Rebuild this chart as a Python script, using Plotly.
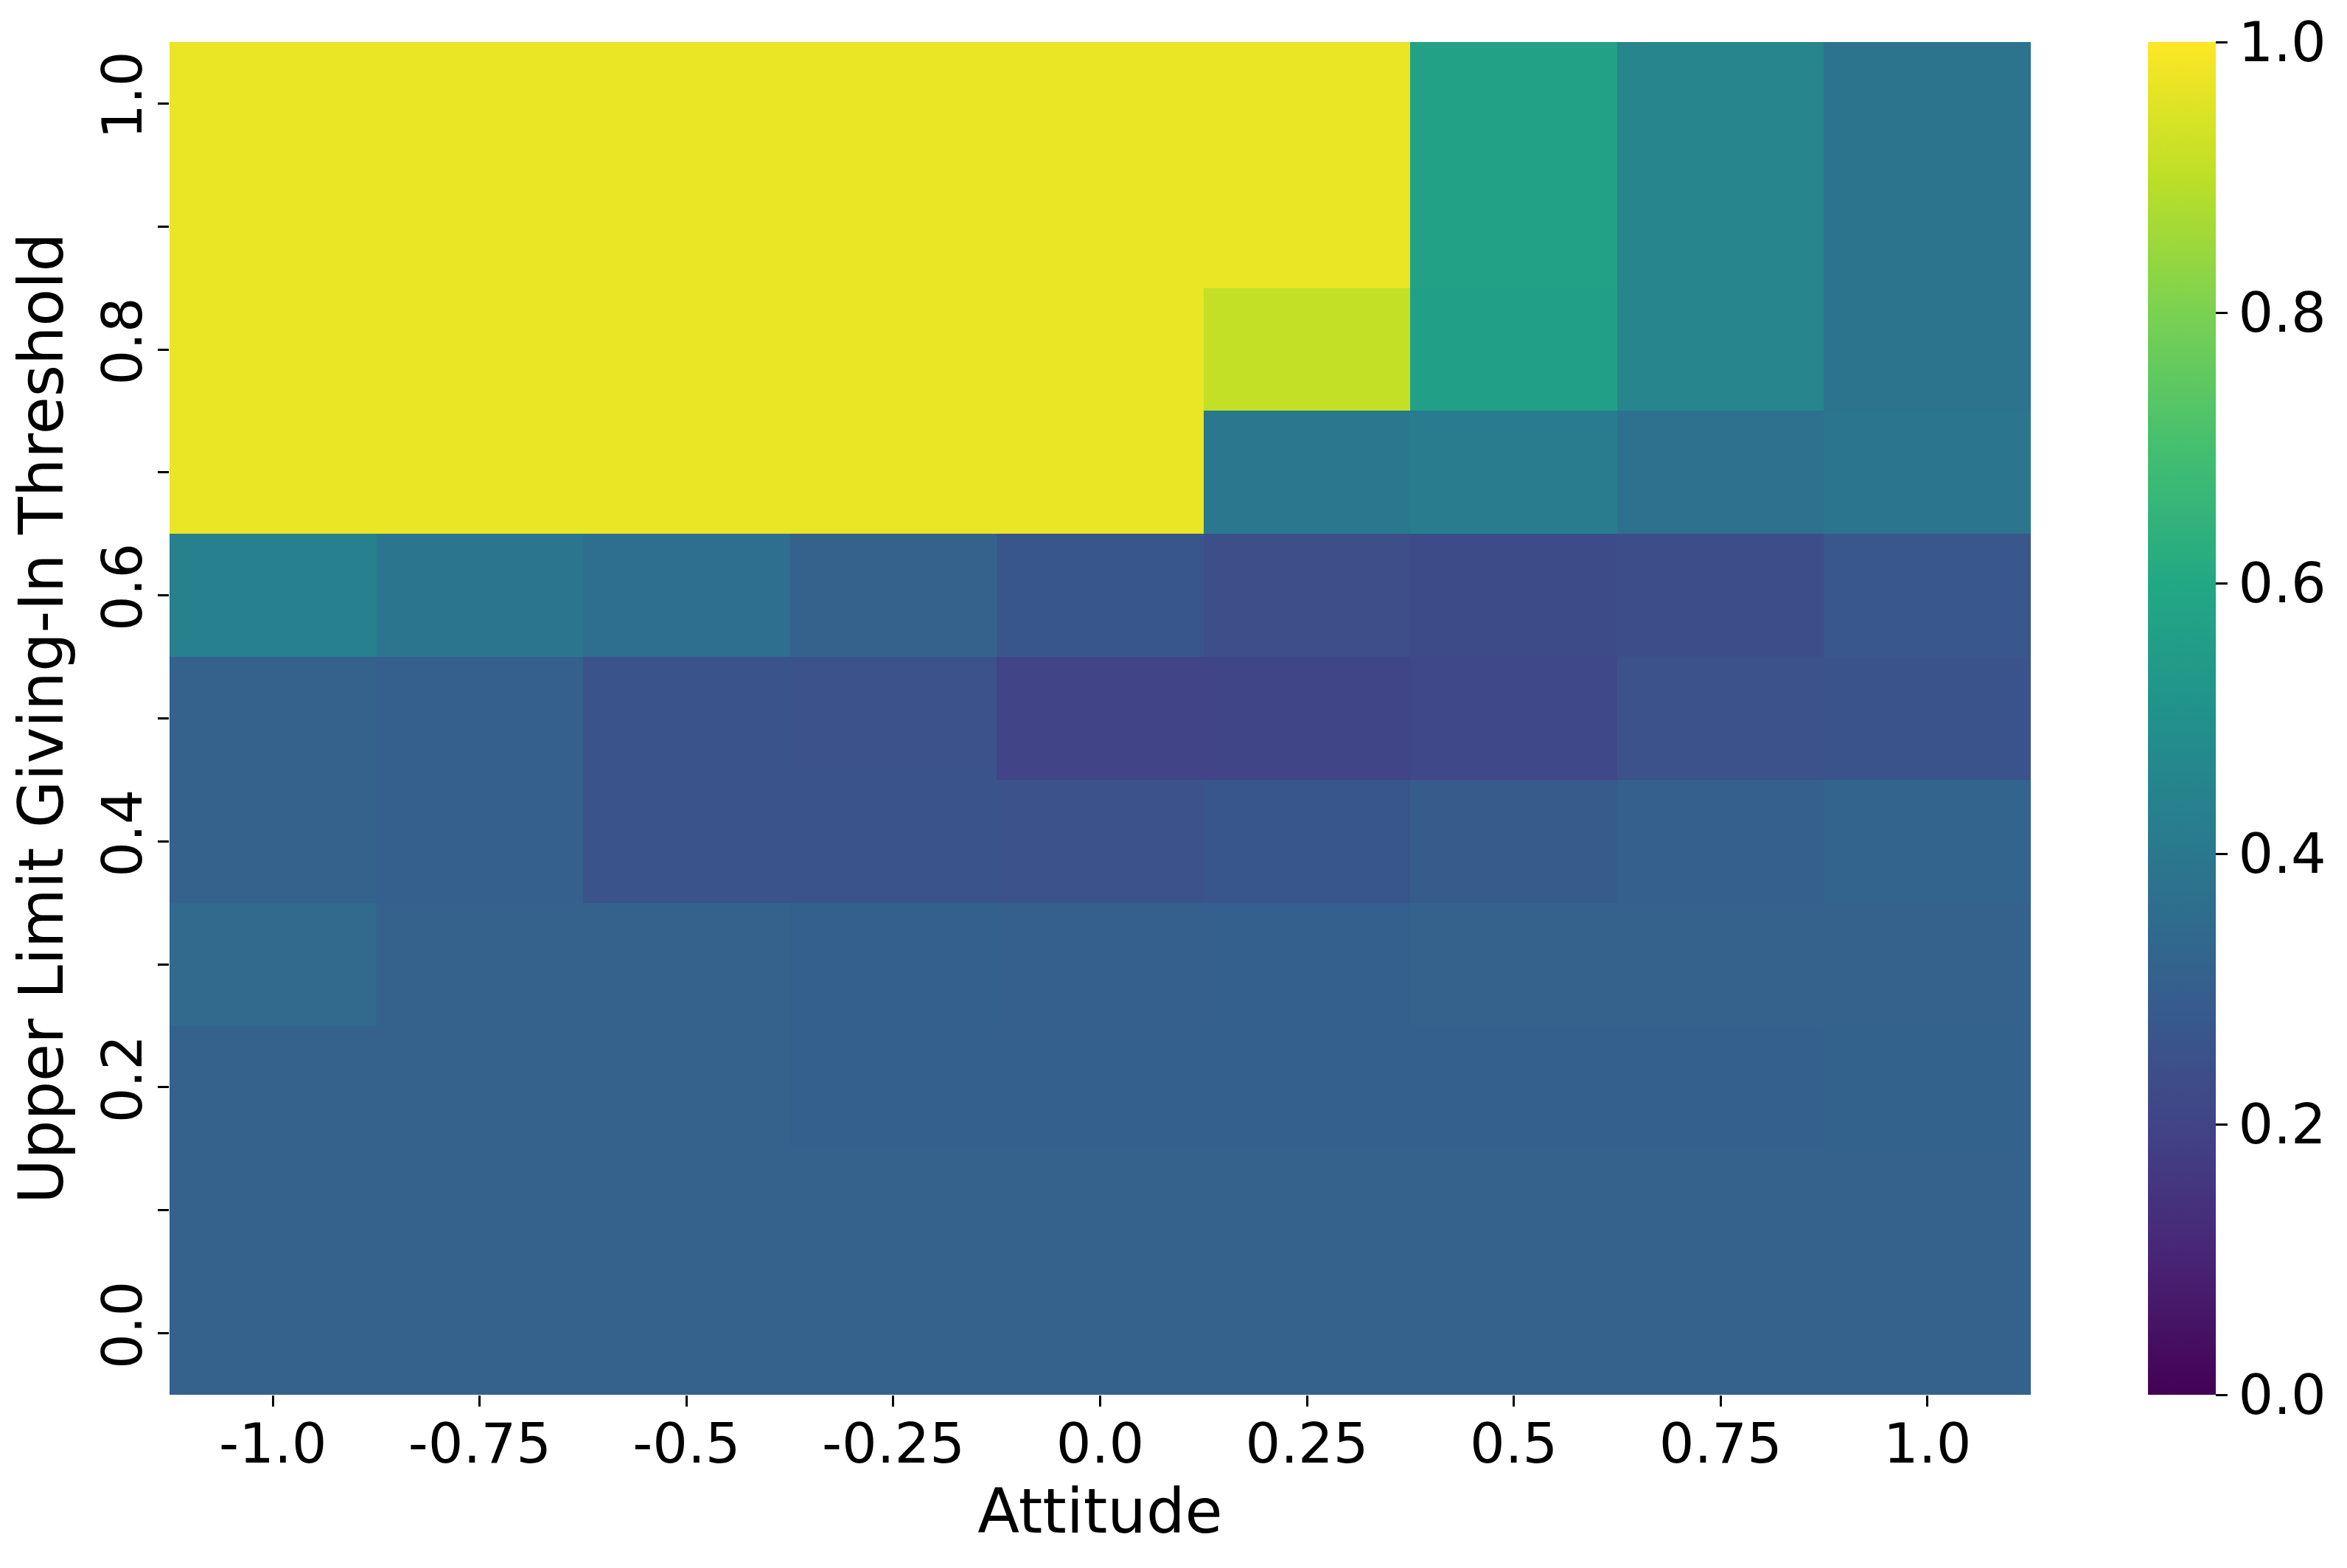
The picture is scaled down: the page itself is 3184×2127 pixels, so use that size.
import plotly.graph_objects as go

attitudes = [-1.0, -0.75, -0.5, -0.25, 0.0, 0.25, 0.5, 0.75, 1.0]
attitude_labels = ["-1.0", "-0.75", "-0.5", "-0.25", "0.0", "0.25", "0.5", "0.75", "1.0"]

thresholds = [0.0, 0.1, 0.2, 0.3, 0.4, 0.5, 0.6, 0.7, 0.8, 0.9, 1.0]
threshold_labels = ["0.0", "", "0.2", "", "0.4", "", "0.6", "", "0.8", "", "1.0"]

# one row per threshold, bottom (0.0) to top (1.0)
row_00 = [0.31, 0.31, 0.31, 0.31, 0.31, 0.31, 0.31, 0.31, 0.31]
row_01 = [0.31, 0.31, 0.31, 0.31, 0.31, 0.31, 0.31, 0.31, 0.31]
row_02 = [0.31, 0.31, 0.31, 0.305, 0.305, 0.305, 0.305, 0.305, 0.315]
row_03 = [0.345, 0.31, 0.31, 0.305, 0.30, 0.305, 0.31, 0.31, 0.31]
row_04 = [0.31, 0.30, 0.26, 0.255, 0.25, 0.265, 0.29, 0.30, 0.32]
row_05 = [0.31, 0.30, 0.26, 0.25, 0.20, 0.205, 0.215, 0.25, 0.26]
row_06 = [0.43, 0.39, 0.36, 0.31, 0.265, 0.24, 0.23, 0.235, 0.27]
row_07 = [0.97, 0.97, 0.97, 0.97, 0.97, 0.40, 0.41, 0.37, 0.39]
row_08 = [0.97, 0.97, 0.97, 0.97, 0.97, 0.91, 0.565, 0.45, 0.38]
row_09 = [0.97, 0.97, 0.97, 0.97, 0.97, 0.97, 0.57, 0.45, 0.38]
row_10 = [0.97, 0.97, 0.97, 0.97, 0.97, 0.97, 0.57, 0.45, 0.38]

z = [row_00, row_01, row_02, row_03, row_04, row_05,
     row_06, row_07, row_08, row_09, row_10]

# matplotlib viridis sampled every 0.1
viridis = [
    [0.0, "#440154"], [0.1, "#482475"], [0.2, "#414487"], [0.3, "#355F8D"],
    [0.4, "#2A788E"], [0.5, "#21918C"], [0.6, "#22A884"], [0.7, "#44BF70"],
    [0.8, "#7AD151"], [0.9, "#BDDF26"], [1.0, "#FDE725"],
]

tick_font = dict(family="DejaVu Sans", size=75, color="black")
title_font = dict(family="DejaVu Sans", size=83, color="black")

fig = go.Figure(
    go.Heatmap(
        x=attitudes,
        y=thresholds,
        z=z,
        zmin=0,
        zmax=1,
        colorscale=viridis,
        colorbar=dict(
            x=1.063,
            xanchor="left",
            xpad=0,
            y=0.5,
            yanchor="middle",
            ypad=0,
            len=1,
            thickness=92,
            outlinewidth=0,
            ticks="outside",
            ticklen=16,
            tickwidth=3,
            tickcolor="black",
            tickvals=[0.0, 0.2, 0.4, 0.6, 0.8, 1.0],
            tickformat=".1f",
            tickfont=tick_font,
        ),
    )
)

# page body adds an 8px offset, so the figure is 8px smaller than the window
fig.update_layout(
    width=3176,
    height=2119,
    margin=dict(l=222, r=429, t=49, b=235, autoexpand=False),
    paper_bgcolor="white",
    plot_bgcolor="white",
    font=dict(family="DejaVu Sans", color="black"),
    xaxis=dict(
        range=[-1.125, 1.125],
        tickvals=attitudes,
        ticktext=attitude_labels,
        ticks="outside",
        ticklen=15,
        tickwidth=3,
        tickcolor="black",
        tickfont=tick_font,
        ticklabelstandoff=-14,
        showgrid=False,
        zeroline=False,
        showline=False,
        automargin=False,
        title=dict(text="Attitude", font=title_font, standoff=10),
    ),
    yaxis=dict(
        range=[-0.05, 1.05],
        tickvals=thresholds,
        ticktext=threshold_labels,
        tickangle=-90,
        ticks="outside",
        ticklen=15,
        tickwidth=3,
        tickcolor="black",
        tickfont=tick_font,
        ticklabelstandoff=-8,
        showgrid=False,
        zeroline=False,
        showline=False,
        automargin=False,
        title=dict(text="Upper Limit Giving-In Threshold", font=title_font, standoff=16),
    ),
)

fig.write_html("out.html")
